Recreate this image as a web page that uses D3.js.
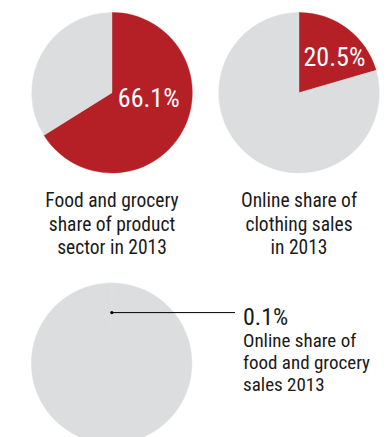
<!DOCTYPE html>
<html>
<head>
<meta charset="utf-8">
<script src="https://cdn.jsdelivr.net/npm/d3@7"></script>
<style>
  html, body { margin: 0; padding: 0; background: #fff; }
  svg { display: block; }
  text { font-family: Roboto, sans-serif; font-stretch: condensed; }
</style>
</head>
<body>
<svg id="chart" width="391" height="437"></svg>
<script>
// Shares (in percent) shown by each pie
const shareValues = [66.1, 20.5, 0.1];
const shareLabels = ["66.1%", "20.5%", "0.1%"];
// Caption lines under / beside each pie
const captionLines = [
  ["Food and grocery", "share of product", "sector in 2013"],
  ["Online share of", "clothing sales", "in 2013"],
  ["Online share of", "food and grocery", "sales 2013"]
];

const RED = "#b52027";
const GREY = "#dcdddf";
const INK = "#1a1a1a";
const R = 80.3;

const svg = d3.select("#chart");

// pie centres and label placement (angle in degrees from 12 o'clock, radius from centre)
const layout = [
  { cx: 112, cy: 92.7, labelAngle: 97, labelRadius: 37 },
  { cx: 299, cy: 92.7, labelAngle: 44.6, labelRadius: 50.5 },
  { cx: 111.7, cy: 363.3, labelAngle: 0.18, labelRadius: 50.7 }
];

const pie = d3.pie().sort(null).value(d => d);
const arc = d3.arc().innerRadius(0).outerRadius(R);

shareValues.forEach((v, i) => {
  const L = layout[i];
  const g = svg.append("g").attr("transform", `translate(${L.cx},${L.cy})`);
  const slices = pie([v, 100 - v]);
  const fillOf = j => (j === 0 && v >= 1) ? RED : GREY;
  g.selectAll("path")
    .data(slices)
    .join("path")
    .attr("d", arc)
    .attr("fill", (d, j) => fillOf(j))
    .attr("stroke", (d, j) => fillOf(j))
    .attr("stroke-width", 0.4);

  const a = L.labelAngle * Math.PI / 180;
  const lx = L.labelRadius * Math.sin(a);
  const ly = -L.labelRadius * Math.cos(a);

  if (v >= 1) {
    // value printed inside the red slice
    g.append("text")
      .attr("x", lx)
      .attr("y", ly)
      .attr("dy", "0.36em")
      .attr("text-anchor", "middle")
      .attr("fill", "#fff")
      .attr("font-size", 26)
      .text(shareLabels[i]);

    const cap = svg.append("text")
      .attr("text-anchor", "middle")
      .attr("fill", INK)
      .attr("font-size", 19.5);
    captionLines[i].forEach((line, k) => {
      cap.append("tspan")
        .attr("x", L.cx)
        .attr("y", 207 + k * 23.7)
        .text(line);
    });
  } else {
    // slice too thin to see: point to it with a leader line
    const endX = 235 - L.cx;
    g.append("line")
      .attr("x1", lx).attr("y1", ly)
      .attr("x2", endX).attr("y2", ly)
      .attr("stroke", "#000")
      .attr("stroke-width", 1);
    g.append("circle")
      .attr("cx", lx).attr("cy", ly)
      .attr("r", 1.6)
      .attr("fill", "#000");

    svg.append("text")
      .attr("x", 243)
      .attr("y", 325)
      .attr("fill", INK)
      .attr("font-size", 24)
      .text(shareLabels[i]);

    const cap = svg.append("text")
      .attr("fill", INK)
      .attr("font-size", 19);
    captionLines[i].forEach((line, k) => {
      cap.append("tspan")
        .attr("x", 243)
        .attr("y", 347.3 + k * 21.7)
        .text(line);
    });
  }
});
</script>
</body>
</html>
